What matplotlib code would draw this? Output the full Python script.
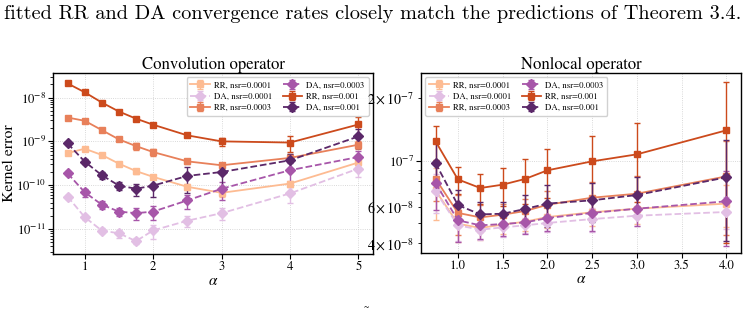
import numpy as np
import matplotlib
matplotlib.use("Agg")
import matplotlib.pyplot as plt

plt.rcParams['font.family'] = ['STIXGeneral', 'DejaVu Serif']
plt.rcParams['mathtext.fontset'] = 'stix'

# ---------------- data ----------------
conv_alpha = [0.75, 1.0, 1.25, 1.5, 1.75, 2.0, 2.5, 3.0, 4.0, 5.0]
conv_rr_1e4 = [5.4e-10, 6.8e-10, 4.9e-10, 3.1e-10, 2.1e-10, 1.55e-10, 9.2e-11, 6.7e-11, 1.09e-10, 3.3e-10]
conv_da_1e4 = [5.5e-11, 1.87e-11, 9.2e-12, 8.0e-12, 5.3e-12, 9.3e-12, 1.55e-11, 2.3e-11, 6.5e-11, 2.4e-10]
conv_rr_3e4 = [3.5e-9, 2.95e-9, 1.81e-9, 1.11e-9, 7.8e-10, 5.7e-10, 3.5e-10, 2.85e-10, 4.2e-10, 8.4e-10]
conv_da_3e4 = [1.87e-10, 6.9e-11, 3.6e-11, 2.5e-11, 2.3e-11, 2.5e-11, 4.5e-11, 8.3e-11, 2.2e-10, 4.4e-10]
conv_rr_1e3 = [2.1e-8, 1.32e-8, 7.7e-9, 4.8e-9, 3.3e-9, 2.4e-9, 1.37e-9, 1.0e-9, 9.4e-10, 2.43e-9]
conv_da_1e3 = [9.0e-10, 3.45e-10, 1.69e-10, 9.8e-11, 8.3e-11, 9.8e-11, 1.63e-10, 2.0e-10, 3.7e-10, 1.3e-9]

# relative error (std / mean)
conv_rr_1e4_rel = [0.08, 0.08, 0.08, 0.08, 0.12, 0.12, 0.15, 0.2, 0.15, 0.2]
conv_da_1e4_rel = [0.1, 0.12, 0.12, 0.2, 0.15, 0.35, 0.3, 0.3, 0.4, 0.35]
conv_rr_3e4_rel = [0.08, 0.08, 0.08, 0.1, 0.2, 0.2, 0.15, 0.1, 0.2, 0.2]
conv_da_3e4_rel = [0.1, 0.2, 0.2, 0.2, 0.3, 0.35, 0.35, 0.45, 0.45, 0.4]
conv_rr_1e3_rel = [0.06, 0.06, 0.06, 0.06, 0.08, 0.08, 0.1, 0.2, 0.38, 0.45]
conv_da_1e3_rel = [0.1, 0.12, 0.2, 0.2, 0.3, 0.45, 0.6, 0.55, 0.4, 0.45]

nl_alpha = [0.75, 1.0, 1.25, 1.5, 1.75, 2.0, 2.5, 3.0, 4.0]
nl_rr_1e4 = [7.2e-8, 4.98e-8, 4.75e-8, 4.93e-8, 5.09e-8, 5.36e-8, 5.65e-8, 5.88e-8, 6.22e-8]
nl_da_1e4 = [7.12e-8, 4.89e-8, 4.66e-8, 4.78e-8, 4.89e-8, 5.02e-8, 5.24e-8, 5.44e-8, 5.67e-8]
nl_rr_3e4 = [8.19e-8, 5.61e-8, 5.34e-8, 5.5e-8, 5.73e-8, 6.14e-8, 6.64e-8, 6.94e-8, 8.41e-8]
nl_da_3e4 = [7.81e-8, 5.17e-8, 4.89e-8, 4.96e-8, 5.05e-8, 5.3e-8, 5.61e-8, 5.88e-8, 6.38e-8]
nl_rr_1e3 = [1.24e-7, 8.13e-8, 7.39e-8, 7.67e-8, 8.17e-8, 8.99e-8, 9.93e-8, 1.073e-7, 1.40e-7]
nl_da_1e3 = [9.74e-8, 6.12e-8, 5.52e-8, 5.56e-8, 5.86e-8, 6.22e-8, 6.45e-8, 6.84e-8, 8.32e-8]

nl_rr_1e4_err = [2.0e-8, 9e-9, 6e-9, 5e-9, 5e-9, 6e-9, 8e-9, 9e-9, 1.4e-8]
nl_da_1e4_err = [1.5e-8, 8e-9, 5e-9, 5e-9, 4e-9, 5e-9, 7e-9, 6e-9, 1.0e-8]
nl_rr_3e4_err = [1.8e-8, 1.2e-8, 8e-9, 7e-9, 8e-9, 1.0e-8, 1.3e-8, 1.5e-8, 4.0e-8]
nl_da_3e4_err = [2.0e-8, 1.1e-8, 7e-9, 6e-9, 6e-9, 7e-9, 1.0e-8, 1.0e-8, 2.5e-8]
nl_rr_1e3_err = [2.3e-8, 1.2e-8, 1.2e-8, 1.6e-8, 2.0e-8, 2.4e-8, 3.2e-8, 4.4e-8, 1.0e-7]
nl_da_1e3_err = [2.5e-8, 1.1e-8, 8e-9, 8e-9, 1.0e-8, 1.4e-8, 1.4e-8, 1.5e-8, 4.2e-8]

labels = ["RR, nsr=0.0001", "DA, nsr=0.0001", "RR, nsr=0.0003",
          "DA, nsr=0.0003", "RR, nsr=0.001", "DA, nsr=0.001"]
colors = ["#fdbb92", "#e2bfe4", "#e8805a", "#a756a9", "#cc4a1c", "#5b2869"]
markers = ["s", "D", "s", "D", "s", "D"]
styles = ["-", "--", "-", "--", "-", "--"]

top_text = "fitted RR and DA convergence rates closely match the predictions of Theorem 3.4."

fig = plt.figure(figsize=(7.48, 3.17), dpi=100)
ax1 = fig.add_axes([0.0709, 0.1987, 0.4278, 0.571])
ax2 = fig.add_axes([0.5628, 0.2019, 0.4278, 0.5678])

conv_vals = [conv_rr_1e4, conv_da_1e4, conv_rr_3e4, conv_da_3e4, conv_rr_1e3, conv_da_1e3]
conv_rels = [conv_rr_1e4_rel, conv_da_1e4_rel, conv_rr_3e4_rel, conv_da_3e4_rel, conv_rr_1e3_rel, conv_da_1e3_rel]
nl_vals = [nl_rr_1e4, nl_da_1e4, nl_rr_3e4, nl_da_3e4, nl_rr_1e3, nl_da_1e3]
nl_errs = [nl_rr_1e4_err, nl_da_1e4_err, nl_rr_3e4_err, nl_da_3e4_err, nl_rr_1e3_err, nl_da_1e3_err]

for i in range(6):
    v = np.array(conv_vals[i]); e = v * np.array(conv_rels[i])
    ax1.errorbar(conv_alpha, v, yerr=e, color=colors[i], marker=markers[i], ls=styles[i],
                 lw=1.3, ms=5, capsize=2.5, elinewidth=1.0, label=labels[i])
    ax2.errorbar(nl_alpha, nl_vals[i], yerr=nl_errs[i], color=colors[i], marker=markers[i], ls=styles[i],
                 lw=1.3, ms=5, capsize=2.5, elinewidth=1.0, label=labels[i])

for ax, title in [(ax1, "Convolution operator"), (ax2, "Nonlocal operator")]:
    ax.set_yscale("log")
    ax.set_title(title, fontsize=12, pad=2)
    ax.set_xlabel(r"$\alpha$", fontsize=11, labelpad=1)
    ax.grid(True, which="major", ls=":", lw=0.6, color="#cccccc")
    ax.tick_params(labelsize=9.2, pad=1.5)
    for s in ax.spines.values():
        s.set_linewidth(1.0)

ax1.set_ylabel("Kernel error", fontsize=11.3)
ax1.yaxis.set_label_coords(-0.115, 0.5)
ax1.set_ylim(10**-11.57, 10**-7.44)
ax1.set_xticks([1, 2, 3, 4, 5])
ax2.set_ylim(3.6e-8, 2.64e-7)

leg_kw = dict(ncol=2, fontsize=6.3, framealpha=0.9, borderpad=0.45, handlelength=2.2,
              columnspacing=1.2, labelspacing=0.35, handletextpad=0.5)
ax1.legend(loc="upper right", **leg_kw)
ax2.legend(loc="upper left", **leg_kw)

fig.text(0.005, 0.955, top_text, fontsize=14.6, family="cmr10", va="center", ha="left")
fig.text(0.49, 0.03, "~", fontsize=7, ha="center", va="center")

fig.savefig("out.png", dpi=100)
